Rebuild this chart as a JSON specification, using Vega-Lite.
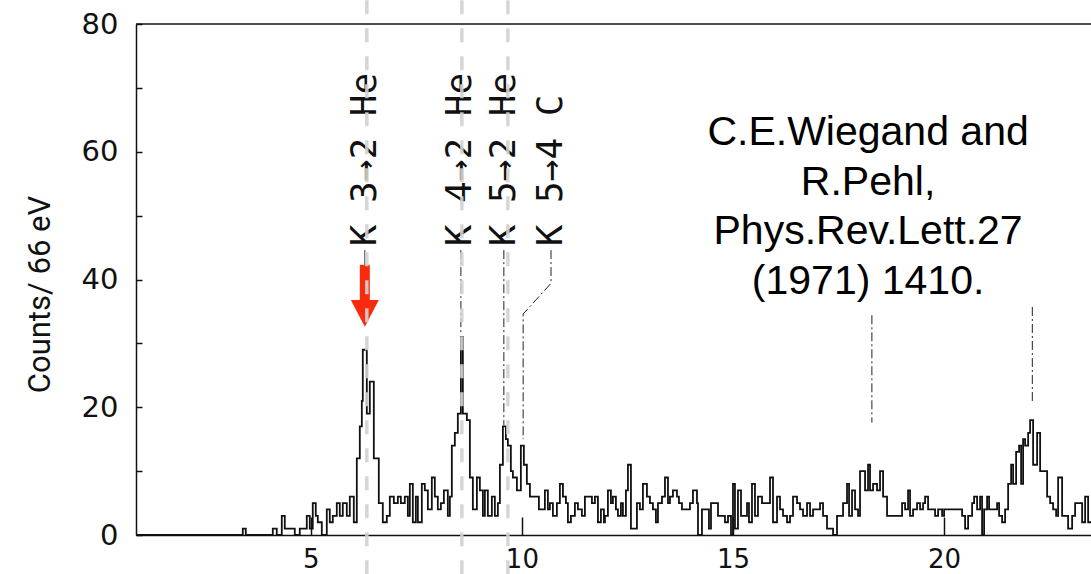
{
  "$schema": "https://vega.github.io/schema/vega-lite/v6.json",
  "width": 955,
  "height": 511,
  "autosize": {"type": "none"},
  "padding": {"left": 136, "top": 24, "right": 0, "bottom": 39},
  "background": "white",
  "config": {"view": {"stroke": null}},
  "datasets": {
    "hist": [
      {"e":0.865,"c":0},{"e":3.389,"c":1},{"e":3.460,"c":0},{"e":4.100,"c":1},{"e":4.194,"c":0},{"e":4.313,"c":3},{"e":4.384,"c":1},{"e":4.621,"c":0},{"e":4.739,"c":1},{"e":4.905,"c":3},{"e":4.976,"c":1},{"e":5.047,"c":5},{"e":5.118,"c":3},{"e":5.166,"c":2},{"e":5.261,"c":0},{"e":5.379,"c":4},{"e":5.450,"c":2},{"e":5.521,"c":3},{"e":5.616,"c":5},{"e":5.687,"c":3},{"e":5.758,"c":5},{"e":5.853,"c":3},{"e":5.924,"c":6},{"e":6.019,"c":2},{"e":6.090,"c":12},{"e":6.161,"c":17},{"e":6.209,"c":21},{"e":6.232,"c":29},{"e":6.327,"c":19},{"e":6.398,"c":24},{"e":6.493,"c":12},{"e":6.611,"c":5},{"e":6.706,"c":2},{"e":6.801,"c":3},{"e":6.872,"c":6},{"e":6.967,"c":5},{"e":7.062,"c":6},{"e":7.133,"c":5},{"e":7.227,"c":6},{"e":7.299,"c":3},{"e":7.346,"c":8},{"e":7.417,"c":2},{"e":7.488,"c":6},{"e":7.536,"c":2},{"e":7.630,"c":8},{"e":7.701,"c":7},{"e":7.773,"c":4},{"e":7.867,"c":9},{"e":7.938,"c":6},{"e":8.009,"c":4},{"e":8.081,"c":5},{"e":8.152,"c":7},{"e":8.246,"c":3},{"e":8.294,"c":6},{"e":8.341,"c":14},{"e":8.412,"c":16},{"e":8.483,"c":19},{"e":8.555,"c":31},{"e":8.602,"c":19},{"e":8.697,"c":18},{"e":8.768,"c":9},{"e":8.839,"c":4},{"e":8.934,"c":9},{"e":9.005,"c":7},{"e":9.076,"c":3},{"e":9.123,"c":7},{"e":9.194,"c":3},{"e":9.289,"c":6},{"e":9.360,"c":3},{"e":9.431,"c":5},{"e":9.479,"c":11},{"e":9.550,"c":17},{"e":9.621,"c":15},{"e":9.668,"c":14},{"e":9.739,"c":10},{"e":9.787,"c":9},{"e":9.882,"c":7},{"e":9.976,"c":14},{"e":10.047,"c":11},{"e":10.118,"c":8},{"e":10.190,"c":6},{"e":10.403,"c":4},{"e":10.545,"c":7},{"e":10.616,"c":4},{"e":10.664,"c":5},{"e":10.735,"c":3},{"e":10.829,"c":5},{"e":10.900,"c":8},{"e":10.972,"c":6},{"e":11.043,"c":5},{"e":11.090,"c":2},{"e":11.161,"c":3},{"e":11.256,"c":5},{"e":11.327,"c":4},{"e":11.422,"c":3},{"e":11.493,"c":6},{"e":11.659,"c":5},{"e":11.730,"c":6},{"e":11.801,"c":2},{"e":11.872,"c":4},{"e":11.943,"c":2},{"e":11.967,"c":3},{"e":12.038,"c":7},{"e":12.109,"c":5},{"e":12.156,"c":6},{"e":12.227,"c":4},{"e":12.275,"c":3},{"e":12.346,"c":5},{"e":12.393,"c":3},{"e":12.464,"c":7},{"e":12.512,"c":11},{"e":12.583,"c":1},{"e":12.725,"c":5},{"e":12.796,"c":4},{"e":12.867,"c":8},{"e":12.962,"c":6},{"e":13.033,"c":5},{"e":13.104,"c":4},{"e":13.175,"c":2},{"e":13.223,"c":5},{"e":13.318,"c":6},{"e":13.389,"c":9},{"e":13.460,"c":5},{"e":13.507,"c":6},{"e":13.578,"c":7},{"e":13.673,"c":6},{"e":13.720,"c":5},{"e":13.791,"c":4},{"e":13.981,"c":5},{"e":14.052,"c":7},{"e":14.147,"c":5},{"e":14.171,"c":0},{"e":14.265,"c":4},{"e":14.431,"c":1},{"e":14.479,"c":5},{"e":14.645,"c":3},{"e":14.810,"c":2},{"e":14.882,"c":3},{"e":14.953,"c":0},{"e":15.000,"c":8},{"e":15.047,"c":1},{"e":15.118,"c":7},{"e":15.190,"c":3},{"e":15.332,"c":5},{"e":15.379,"c":2},{"e":15.450,"c":8},{"e":15.521,"c":3},{"e":15.592,"c":6},{"e":15.687,"c":5},{"e":15.877,"c":9},{"e":15.948,"c":2},{"e":16.043,"c":6},{"e":16.114,"c":4},{"e":16.185,"c":3},{"e":16.280,"c":2},{"e":16.351,"c":3},{"e":16.422,"c":6},{"e":16.517,"c":5},{"e":16.588,"c":4},{"e":16.659,"c":3},{"e":16.754,"c":5},{"e":16.825,"c":3},{"e":16.896,"c":4},{"e":17.062,"c":5},{"e":17.133,"c":3},{"e":17.227,"c":1},{"e":17.370,"c":0},{"e":17.464,"c":3},{"e":17.607,"c":5},{"e":17.701,"c":8},{"e":17.749,"c":3},{"e":17.820,"c":7},{"e":17.891,"c":4},{"e":17.962,"c":3},{"e":18.009,"c":10},{"e":18.128,"c":7},{"e":18.199,"c":11},{"e":18.246,"c":7},{"e":18.318,"c":8},{"e":18.412,"c":7},{"e":18.483,"c":10},{"e":18.555,"c":6},{"e":18.649,"c":3},{"e":19.005,"c":5},{"e":19.076,"c":4},{"e":19.147,"c":7},{"e":19.194,"c":3},{"e":19.265,"c":4},{"e":19.360,"c":5},{"e":19.431,"c":4},{"e":19.502,"c":5},{"e":19.550,"c":6},{"e":19.621,"c":4},{"e":19.787,"c":3},{"e":19.858,"c":4},{"e":19.953,"c":3},{"e":20.000,"c":4},{"e":20.427,"c":3},{"e":20.498,"c":1},{"e":20.569,"c":3},{"e":20.664,"c":5},{"e":20.711,"c":6},{"e":20.782,"c":4},{"e":20.853,"c":6},{"e":20.900,"c":0},{"e":20.948,"c":4},{"e":21.019,"c":6},{"e":21.066,"c":4},{"e":21.256,"c":5},{"e":21.303,"c":3},{"e":21.374,"c":2},{"e":21.445,"c":4},{"e":21.517,"c":8},{"e":21.588,"c":11},{"e":21.635,"c":8},{"e":21.706,"c":13},{"e":21.777,"c":14},{"e":21.825,"c":8},{"e":21.872,"c":15},{"e":21.919,"c":14},{"e":21.991,"c":16},{"e":22.038,"c":18},{"e":22.109,"c":11},{"e":22.204,"c":16},{"e":22.275,"c":10},{"e":22.441,"c":6},{"e":22.512,"c":5},{"e":22.583,"c":4},{"e":22.654,"c":3},{"e":22.701,"c":9},{"e":22.796,"c":3},{"e":22.938,"c":1},{"e":23.033,"c":3},{"e":23.104,"c":5},{"e":23.270,"c":2},{"e":23.341,"c":6},{"e":23.412,"c":2},{"e":23.483,"c":2}
    ],
    "leaders": [
      {"e":8.555,"y":44.6,"y2":31.3},
      {"e":9.573,"y":44.6,"y2":17.2},
      {"e":18.29,"y":34.4,"y2":17.6},
      {"e":22.09,"y":35.7,"y2":20.8}
    ],
    "cpath": [
      {"e":10.69,"y":44.6,"o":1},
      {"e":10.69,"y":39.4,"o":2},
      {"e":10.03,"y":34.6,"o":3},
      {"e":10.03,"y":15.0,"o":4}
    ],
    "labels": [
      {"e":6.28,"y":45.2,"t":"K 3→2 He"},
      {"e":8.53,"y":45.2,"t":"K 4→2 He"},
      {"e":9.57,"y":45.2,"t":"K 5→2 He"},
      {"e":10.69,"y":45.2,"t":"K 5→4 C"}
    ],
    "cite": [
      {"e":18.2,"y":62.9,"t":"C.E.Wiegand and"},
      {"e":18.2,"y":55.1,"t":"R.Pehl,"},
      {"e":18.2,"y":47.4,"t":"Phys.Rev.Lett.27"},
      {"e":18.2,"y":39.6,"t":"(1971) 1410."}
    ],
    "guides": [
      {"e":6.327,"y":83.7,"y2":-6.2},
      {"e":8.578,"y":83.7,"y2":-6.2},
      {"e":9.668,"y":83.7,"y2":-6.2}
    ]
  },
  "layer": [
    {
      "data": {"name": "hist"},
      "mark": {"type": "line", "interpolate": "step-after", "color": "#111111", "strokeWidth": 1.8},
      "encoding": {
        "x": {
          "field": "e", "type": "quantitative",
          "scale": {"domain": [0.86, 23.48], "nice": false, "zero": false},
          "axis": {
            "values": [5, 10, 15, 20], "title": null, "grid": false,
            "domainColor": "#111111", "domainWidth": 1.5,
            "tickColor": "#111111", "tickWidth": 1.5, "tickSize": -18,
            "labelFont": "DejaVu Sans", "labelFontSize": 26, "labelColor": "#111111",
            "labelPadding": 29
          }
        },
        "y": {
          "field": "c", "type": "quantitative",
          "scale": {"domain": [0, 80], "nice": false},
          "axis": {
            "values": [0, 10, 20, 30, 40, 50, 60, 70, 80],
            "labelExpr": "datum.value % 20 === 0 ? datum.label : ''",
            "grid": false,
            "domainColor": "#111111", "domainWidth": 1.5,
            "tickColor": "#111111", "tickWidth": 1.5, "tickSize": -6,
            "labelFont": "DejaVu Sans", "labelFontSize": 29, "labelColor": "#111111",
            "labelPadding": 24,
            "title": "Counts/ 66 eV",
            "titleFont": "Roboto", "titleFontSize": 31,
            "titleFontWeight": "normal", "titleColor": "#111111",
            "titleX": -96, "titleY": 270, "titleAngle": 270,
            "titleAlign": "center", "titleBaseline": "middle"
          }
        }
      }
    },
    {
      "data": {"values": [{"a": 0.86, "b": 23.48, "y": 80}]},
      "mark": {"type": "rule", "color": "#111111", "strokeWidth": 1.5},
      "encoding": {
        "x": {"field": "a", "type": "quantitative"},
        "x2": {"field": "b"},
        "y": {"field": "y", "type": "quantitative"}
      }
    },
    {
      "data": {"name": "leaders"},
      "mark": {"type": "rule", "color": "#222222", "strokeWidth": 1, "strokeDash": [9, 3, 2, 3]},
      "encoding": {
        "x": {"field": "e", "type": "quantitative"},
        "y": {"field": "y", "type": "quantitative"},
        "y2": {"field": "y2"}
      }
    },
    {
      "data": {"name": "cpath"},
      "mark": {"type": "line", "color": "#222222", "strokeWidth": 1, "strokeDash": [9, 3, 2, 3]},
      "encoding": {
        "x": {"field": "e", "type": "quantitative"},
        "y": {"field": "y", "type": "quantitative"},
        "order": {"field": "o"}
      }
    },
    {
      "data": {"values": [{"e": 6.28, "y": 44.6, "y2": 42.3}]},
      "mark": {"type": "rule", "color": "#333333", "strokeWidth": 1},
      "encoding": {
        "x": {"field": "e", "type": "quantitative"},
        "y": {"field": "y", "type": "quantitative"},
        "y2": {"field": "y2"}
      }
    },
    {
      "data": {"values": [{"e": 6.28, "y": 42.3, "y2": 36.6}]},
      "mark": {"type": "rule", "color": "#fa2a0e", "strokeWidth": 10, "strokeCap": "butt"},
      "encoding": {
        "x": {"field": "e", "type": "quantitative"},
        "y": {"field": "y", "type": "quantitative"},
        "y2": {"field": "y2"}
      }
    },
    {
      "data": {"values": [{"e": 6.28, "y": 34.7}]},
      "mark": {"type": "point", "shape": "M-1,-0.96L1,-0.96L0,0.96Z", "filled": true, "color": "#fa2a0e", "size": 784, "opacity": 1, "strokeWidth": 0},
      "encoding": {
        "x": {"field": "e", "type": "quantitative"},
        "y": {"field": "y", "type": "quantitative"}
      }
    },
    {
      "data": {"name": "labels"},
      "mark": {"type": "text", "angle": 270, "align": "left", "baseline": "middle", "font": "DejaVu Sans Mono", "fontSize": 36, "color": "#111111"},
      "encoding": {
        "x": {"field": "e", "type": "quantitative"},
        "y": {"field": "y", "type": "quantitative"},
        "text": {"field": "t"}
      }
    },
    {
      "data": {"name": "cite"},
      "mark": {"type": "text", "align": "center", "baseline": "middle", "font": "Liberation Sans", "fontSize": 41, "color": "#000000"},
      "encoding": {
        "x": {"field": "e", "type": "quantitative"},
        "y": {"field": "y", "type": "quantitative"},
        "text": {"field": "t"}
      }
    },
    {
      "data": {"name": "guides"},
      "mark": {"type": "rule", "color": "#d2d2d2", "strokeWidth": 3.5, "strokeDash": [14, 14], "opacity": 0.9},
      "encoding": {
        "x": {"field": "e", "type": "quantitative"},
        "y": {"field": "y", "type": "quantitative"},
        "y2": {"field": "y2"}
      }
    }
  ]
}
